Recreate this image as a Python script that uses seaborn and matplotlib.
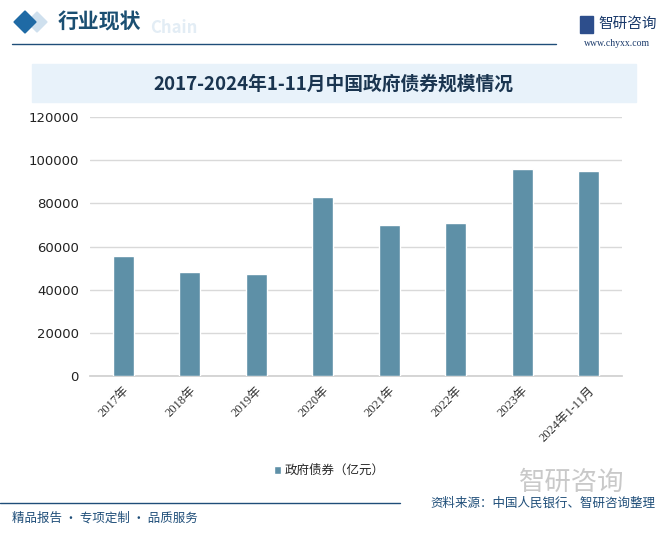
import numpy as np
import pandas as pd
import matplotlib.pyplot as plt
import seaborn as sns
from matplotlib.patches import Rectangle, Polygon

# data
years = ['2017年', '2018年', '2019年', '2020年', '2021年', '2022年', '2023年', '2024年1-11月']
bond_values = [55600, 48200, 47300, 83000, 70000, 71000, 96000, 95100]
series_name = '政府债券（亿元）'
y_ticks = [0, 20000, 40000, 60000, 80000, 100000, 120000]

df = pd.DataFrame({'year': years, 'value': bond_values})

sns.set_theme(style='white')
plt.rcParams['font.family'] = ['Noto Sans CJK SC', 'DejaVu Sans']

bar_color = '#5E90A7'
navy = '#1F4E79'

fig = plt.figure(figsize=(6.63, 5.33), dpi=100)
fig.patch.set_facecolor('white')

# ---- header ----
fig.patches.append(Polygon([[27 / 663, 1 - 22 / 533], [37 / 663, 1 - 12 / 533],
                            [47 / 663, 1 - 22 / 533], [37 / 663, 1 - 32 / 533]],
                           closed=True, transform=fig.transFigure, color='#cfe0ee'))
fig.patches.append(Polygon([[14 / 663, 1 - 22 / 533], [25 / 663, 1 - 11 / 533],
                            [36 / 663, 1 - 22 / 533], [25 / 663, 1 - 33 / 533]],
                           closed=True, transform=fig.transFigure, color='#1f6aa5'))
fig.text(58 / 663, 1 - 22 / 533, '行业现状', fontsize=15, fontweight='bold',
         color='#1b4f72', va='center', ha='left')
fig.text(150 / 663, 1 - 28 / 533, 'Chain', fontsize=12, fontweight='bold',
         color='#e3edf5', va='center', ha='left', zorder=0)
fig.add_artist(plt.Line2D([12 / 663, 556 / 663], [1 - 44 / 533, 1 - 44 / 533],
                          color=navy, lw=1.0, transform=fig.transFigure))
fig.text(598 / 663, 1 - 24 / 533, '智研咨询', fontsize=10.5, color='#1a3a6b',
         va='center', ha='left')
fig.patches.append(Rectangle((580 / 663, 1 - 33 / 533), 13 / 663, 17 / 533,
                             transform=fig.transFigure, color='#2d4e8c'))
fig.text(617 / 663, 1 - 44 / 533, 'www.chyxx.com', fontsize=7,
         family=['Liberation Serif'], color='#1a3a6b', va='center', ha='center')

# ---- title band ----
fig.patches.append(Rectangle((32 / 663, 1 - 102 / 533), 604 / 663, 38 / 533,
                             transform=fig.transFigure, color='#e8f2fa', zorder=0))
fig.text(333 / 663, 1 - 84 / 533, '2017-2024年1-11月中国政府债券规模情况',
         fontsize=13.5, fontweight='bold', color='#1a3550',
         family=['Noto Sans CJK SC'], ha='center', va='center')

# ---- plot ----
ax = fig.add_axes([90 / 663, 1 - 376 / 533, 532 / 663, 259 / 533])
sns.barplot(data=df, x='year', y='value', color=bar_color, width=0.32,
            saturation=1, ax=ax, label=series_name, zorder=3)

ax.set_ylim(0, 120000)
ax.set_yticks(y_ticks)
ax.set_yticklabels([str(v) for v in y_ticks], fontsize=9.5, color='#222222',
                   family=['DejaVu Sans'])
ax.set_xlabel('')
ax.set_ylabel('')
ax.yaxis.grid(True, color='#d9d9d9', lw=1, zorder=0)
ax.set_axisbelow(True)
for s in ['top', 'right', 'left']:
    ax.spines[s].set_visible(False)
ax.spines['bottom'].set_color('#d0d0d0')
ax.tick_params(axis='both', length=0)
ax.tick_params(axis='y', pad=8)
ax.set_xticks(range(len(years)))
ax.set_xticklabels(years, rotation=45, ha='right', va='top', rotation_mode='anchor',
                   fontsize=9, color='#333333',
                   family=['Liberation Serif', 'Noto Sans CJK SC'])
ax.tick_params(axis='x', pad=6)

leg = ax.legend(loc='center', bbox_to_anchor=(0.45, -0.365), frameon=False,
                fontsize=9, handlelength=0.6, handleheight=0.6, handletextpad=0.3)

# ---- footer ----
fig.add_artist(plt.Line2D([0, 400 / 663], [1 - 503 / 533, 1 - 503 / 533],
                          color=navy, lw=1.0, transform=fig.transFigure))
fig.text(12 / 663, 1 - 518 / 533, '精品报告 · 专项定制 · 品质服务', fontsize=9,
         color='#1f4e79', va='center', ha='left')
fig.text(572 / 663, 1 - 482 / 533, '智研咨询', fontsize=19, color='#c9c9c9',
         va='center', ha='center', zorder=0)
fig.text(655 / 663, 1 - 503 / 533, '资料来源：中国人民银行、智研咨询整理', fontsize=9,
         color='#1f4e79', va='center', ha='right')

fig.savefig('out.png', dpi=100)
